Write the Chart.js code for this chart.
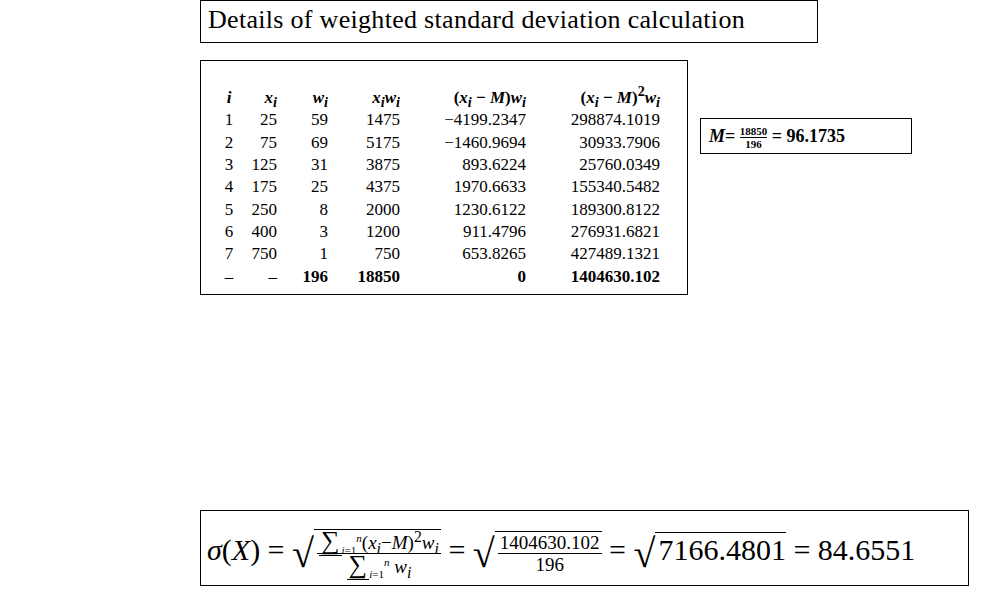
<!DOCTYPE html>
<html><head><meta charset="utf-8">
<script src="https://cdn.jsdelivr.net/npm/chart.js@4"></script>
<style>
body{margin:0;width:1000px;height:600px;background:#fff;position:relative;font-family:"Liberation Serif","DejaVu Serif",serif;color:#000}
canvas#c{position:absolute;left:0;top:0}
sub,sup{line-height:0}
.box{position:absolute;border:1px solid #000;background:#fff;box-sizing:border-box}
table{border-collapse:collapse;font-size:17px}
td{padding:0;height:22.3px;line-height:22px;text-align:right;white-space:nowrap}
.frac{display:inline-flex;flex-direction:column;vertical-align:middle;text-align:center;font-size:11px;line-height:12px;font-weight:bold}
.frac span:first-child{border-bottom:1px solid #000}
.bf{display:inline-flex;flex-direction:column;vertical-align:middle;text-align:center;font-size:19px;line-height:21px}
.bf span:first-child{border-bottom:1px solid #000;padding:0 2px}
.sq{display:inline-block;border-top:1px solid #000;padding-left:3px}
.rad{font-size:40px;vertical-align:middle;line-height:0}
</style></head><body>
<canvas id="c" width="1000" height="600"></canvas>
<div class="box" style="left:200px;top:0;width:618px;height:43px;font-size:26px;padding:4px 0 0 7px;letter-spacing:0.3px">Details of weighted standard deviation calculation</div>
<div class="box" style="left:200px;top:60px;width:488px;height:235px"><table id="t" style="position:absolute;left:20px;top:26px"></table></div>
<div class="box" style="left:700px;top:118px;width:212px;height:36px;font-size:18px;font-weight:bold;padding:6px 0 0 8px"><i>M</i>= <span class="frac"><span>18850</span><span>196</span></span> = 96.1735</div>
<div class="box" style="left:200px;top:510px;width:769px;height:76px;font-size:30px;padding:18px 0 0 6px;white-space:nowrap">
<i>σ</i>(<i>X</i>) = <span class="rad">√</span><span class="sq"><span class="bf"><span><span style="font-size:26px">∑</span><sub style="font-size:11px"><i>i</i>=1</sub><sup style="font-size:11px"><i>n</i></sup>(<i>x<sub>i</sub></i>−<i>M</i>)<sup>2</sup><i>w<sub>i</sub></i></span><span><span style="font-size:26px">∑</span><sub style="font-size:11px"><i>i</i>=1</sub><sup style="font-size:11px"><i>n</i></sup> <i>w<sub>i</sub></i></span></span></span> = <span class="rad">√</span><span class="sq"><span class="bf"><span>1404630.102</span><span>196</span></span></span> = <span class="rad">√</span><span class="sq">7166.4801</span> = 84.6551</div>
<script>
const idx=["1","2","3","4","5","6","7","–"];
const xs=["25","75","125","175","250","400","750","–"];
const ws=["59","69","31","25","8","3","1","196"];
const xw=["1475","5175","3875","4375","2000","1200","750","18850"];
const dev=["−4199.2347","−1460.9694","893.6224","1970.6633","1230.6122","911.4796","653.8265","0"];
const dev2=["298874.1019","30933.7906","25760.0349","155340.5482","189300.8122","276931.6821","427489.1321","1404630.102"];
const heads=["<i>i</i>","<i>x<sub>i</sub></i>","<i>w<sub>i</sub></i>","<i>x<sub>i</sub>w<sub>i</sub></i>","(<i>x<sub>i</sub></i> − <i>M</i>)<i>w<sub>i</sub></i>","(<i>x<sub>i</sub></i> − <i>M</i>)<sup>2</sup><i>w<sub>i</sub></i>"];
const widths=[16,40,51,72,126,134];
const t=document.getElementById('t');
let h='<tr>'+heads.map((x,k)=>`<td style="width:${widths[k]}px;font-weight:bold;text-align:${k==0?'center':'right'}">${x}</td>`).join('')+'</tr>';
for(let r=0;r<idx.length;r++){const last=r==idx.length-1;
 const row=[idx[r],xs[r],ws[r],xw[r],dev[r],dev2[r]];
 h+='<tr>'+row.map((x,k)=>`<td style="text-align:${k==0?'center':'right'};${last&&k>1?'font-weight:bold':''}">${x}</td>`).join('')+'</tr>';}
t.innerHTML=h;
new Chart(document.getElementById('c'),{type:'bar',data:{labels:[],datasets:[]},options:{responsive:false,animation:false,plugins:{legend:{display:false}},scales:{x:{display:false},y:{display:false}}}});
</script>
</body></html>
